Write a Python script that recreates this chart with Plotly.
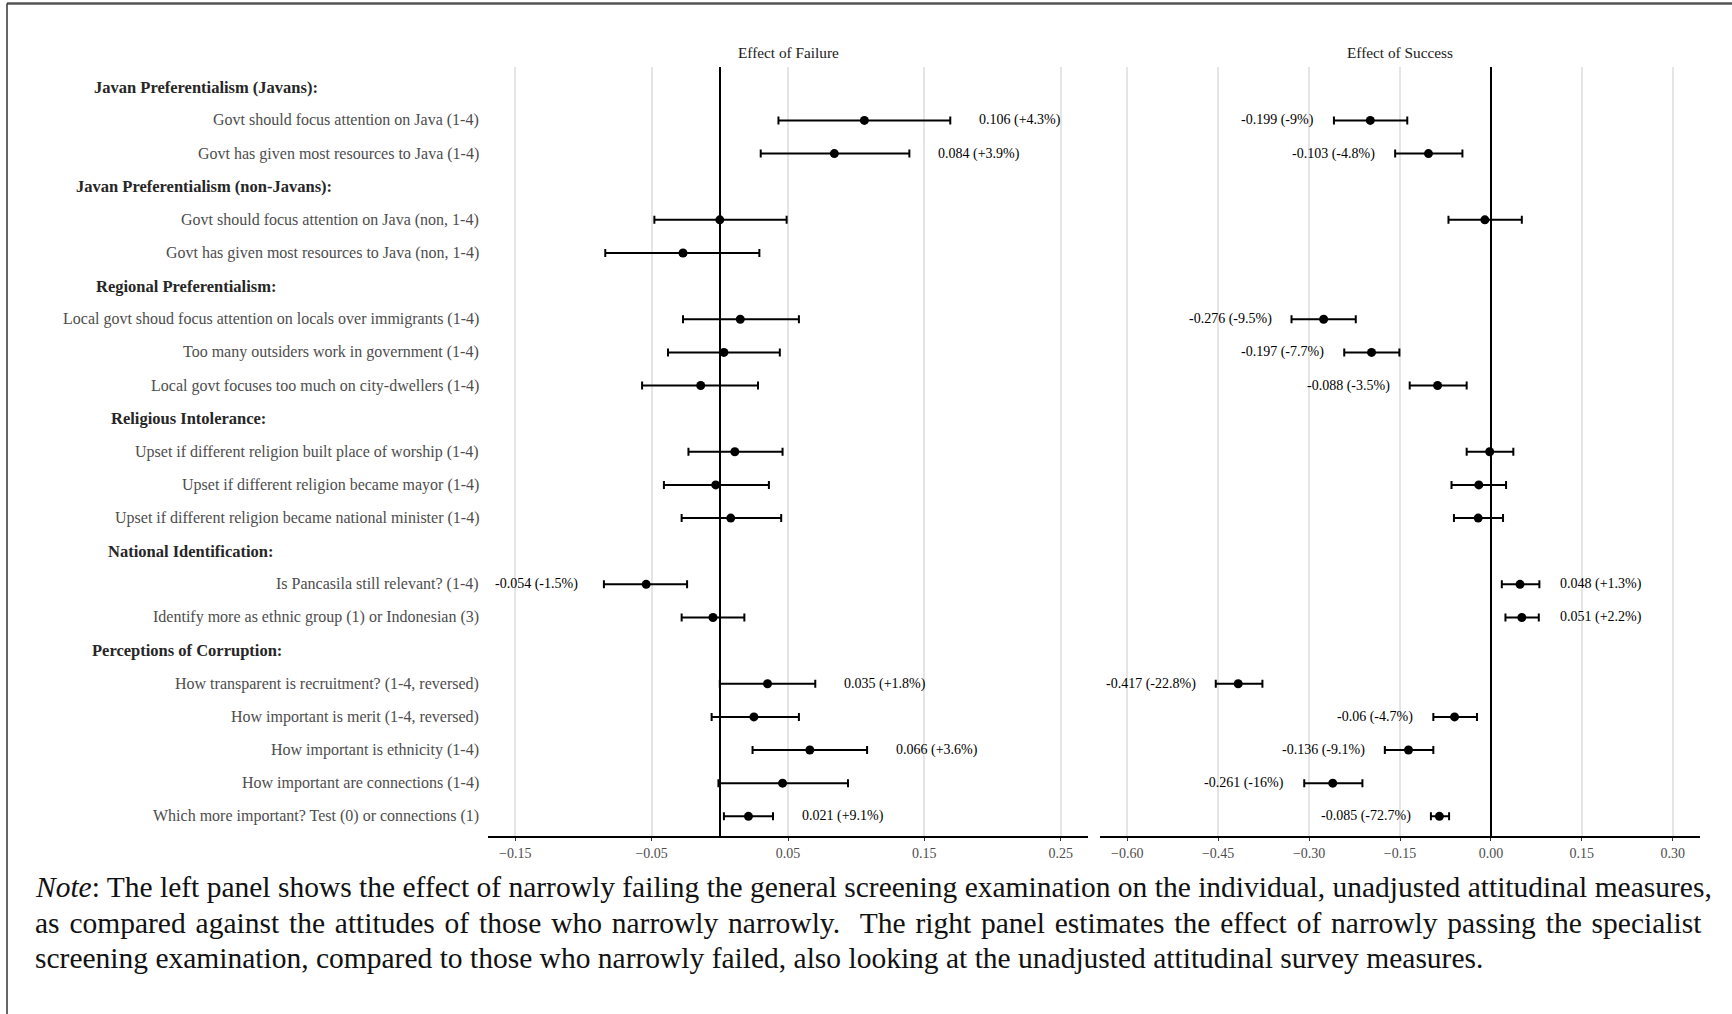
import plotly.graph_objects as go

# ---- data -----------------------------------------------------------------
rows = [
    "Javan Preferentialism (Javans):",
    "Govt should focus attention on Java (1-4)",
    "Govt has given most resources to Java (1-4)",
    "Javan Preferentialism (non-Javans):",
    "Govt should focus attention on Java (non, 1-4)",
    "Govt has given most resources to Java (non, 1-4)",
    "Regional Preferentialism:",
    "Local govt shoud focus attention on locals over immigrants (1-4)",
    "Too many outsiders work in government (1-4)",
    "Local govt focuses too much on city-dwellers (1-4)",
    "Religious Intolerance:",
    "Upset if different religion built place of worship (1-4)",
    "Upset if different religion became mayor (1-4)",
    "Upset if different religion became national minister (1-4)",
    "National Identification:",
    "Is Pancasila still relevant? (1-4)",
    "Identify more as ethnic group (1) or Indonesian (3)",
    "Perceptions of Corruption:",
    "How transparent is recruitment? (1-4, reversed)",
    "How important is merit (1-4, reversed)",
    "How important is ethnicity (1-4)",
    "How important are connections (1-4)",
    "Which more important? Test (0) or connections (1)",
]
is_header = [True, False, False, True, False, False, True, False, False, False,
             True, False, False, False, True, False, False, True, False, False,
             False, False, False]

# Effect of failure (left panel)
fail_est = [None, 0.106, 0.084, None, 0.000, -0.027, None, 0.015, 0.003, -0.014,
            None, 0.011, -0.003, 0.008, None, -0.054, -0.005, None, 0.035, 0.025,
            0.066, 0.046, 0.021]
fail_lo = [None, 0.043, 0.030, None, -0.048, -0.084, None, -0.027, -0.038, -0.057,
           None, -0.023, -0.041, -0.028, None, -0.085, -0.028, None, 0.000, -0.006,
           0.024, -0.001, 0.003]
fail_hi = [None, 0.169, 0.139, None, 0.049, 0.029, None, 0.058, 0.044, 0.028,
           None, 0.046, 0.036, 0.045, None, -0.024, 0.018, None, 0.070, 0.058,
           0.108, 0.094, 0.039]
fail_pct = [None, "+4.3%", "+3.9%", None, None, None, None, None, None, None,
            None, None, None, None, None, "-1.5%", None, None, "+1.8%", None,
            "+3.6%", None, "+9.1%"]

# Effect of success (right panel)
succ_est = [None, -0.199, -0.103, None, -0.010, None, None, -0.276, -0.197, -0.088,
            None, -0.002, -0.020, -0.021, None, 0.048, 0.051, None, -0.417, -0.060,
            -0.136, -0.261, -0.085]
succ_lo = [None, -0.259, -0.158, None, -0.070, None, None, -0.329, -0.242, -0.134,
           None, -0.040, -0.065, -0.061, None, 0.018, 0.024, None, -0.454, -0.095,
           -0.175, -0.308, -0.099]
succ_hi = [None, -0.138, -0.047, None, 0.051, None, None, -0.223, -0.151, -0.040,
           None, 0.037, 0.025, 0.020, None, 0.080, 0.079, None, -0.377, -0.023,
           -0.095, -0.212, -0.069]
succ_pct = [None, "-9%", "-4.8%", None, None, None, None, "-9.5%", "-7.7%", "-3.5%",
            None, None, None, None, None, "+1.3%", "+2.2%", None, "-22.8%", "-4.7%",
            "-9.1%", "-16%", "-72.7%"]

fail_ticks = [-0.15, -0.05, 0.05, 0.15, 0.25]
succ_ticks = [-0.60, -0.45, -0.30, -0.15, 0.00, 0.15, 0.30]

panel_titles = ["Effect of Failure", "Effect of Success"]

note_lines = [
    "<i>Note</i>: The left panel shows the effect of narrowly failing the general screening examination on the individual, unadjusted attitudinal measures,",
    "as compared against the attitudes of those who narrowly narrowly.  The right panel estimates the effect of narrowly passing the specialist",
    "screening examination, compared to those who narrowly failed, also looking at the unadjusted attitudinal survey measures.",
]
# line 1 is set justified: widen its word gaps slightly
note_gap = ["", "\u200a", ""]

# ---- layout geometry (pixels) --------------------------------------------
W, H = 1732, 1014
FONT = "Liberation Serif"
px = lambda v: v / W
py = lambda v: 1 - v / H

left_dom = [px(488), px(1088)]
right_dom = [px(1100), px(1700)]
plot_top, plot_bot = 67.4, 836.2
label_right = 480.5
header_x = [91.8, 73.9, 94.1, 108.7, 105.6, 89.9]
row_pos = list(range(1, len(rows) + 1))

fig = go.Figure()


def add_panel(est, lo, hi, pct, xa, gap_r, gap_l):
    xs, ys, ep, em = [], [], [], []
    for i, e in enumerate(est):
        if e is None:
            continue
        xs.append(e)
        ys.append(row_pos[i])
        ep.append(hi[i] - e)
        em.append(e - lo[i])
    fig.add_trace(go.Scatter(
        x=xs, y=ys, mode="markers", xaxis=xa, yaxis="y",
        marker=dict(color="black", size=9),
        error_x=dict(type="data", symmetric=False, array=ep, arrayminus=em,
                     color="black", thickness=2, width=4),
        showlegend=False, hoverinfo="skip",
    ))
    for i, e in enumerate(est):
        if e is None or pct[i] is None:
            continue
        txt = f"{e:g} ({pct[i]})"
        if e >= 0:
            xv, anchor, shift = hi[i], "left", gap_r
        else:
            xv, anchor, shift = lo[i], "right", -gap_l
        fig.add_annotation(
            x=xv, y=row_pos[i], xref=xa, yref="y", text=txt, showarrow=False,
            xanchor=anchor, xshift=shift, font=dict(family=FONT, size=14, color="black"),
        )


add_panel(fail_est, fail_lo, fail_hi, fail_pct, "x", 27, 24)
add_panel(succ_est, succ_lo, succ_hi, succ_pct, "x2", 19, 18)

# row labels and section headers
hi_idx = 0
for i, lab in enumerate(rows):
    if is_header[i]:
        fig.add_annotation(
            x=px(header_x[hi_idx]), y=row_pos[i], xref="paper", yref="y",
            text=f"<b>{lab}</b>", showarrow=False, xanchor="left",
            font=dict(family=FONT, size=16.5, color="#262626"),
        )
        hi_idx += 1
    else:
        fig.add_annotation(
            x=px(label_right), y=row_pos[i], xref="paper", yref="y",
            text=lab, showarrow=False, xanchor="right",
            font=dict(family=FONT, size=16, color="#4d4d4d"),
        )

# facet titles
for dom, title in zip([left_dom, right_dom], panel_titles):
    fig.add_annotation(
        x=(dom[0] + dom[1]) / 2, y=py(52), xref="paper", yref="paper",
        text=title, showarrow=False, xanchor="center", yanchor="middle",
        font=dict(family=FONT, size=15.3, color="#1a1a1a"),
    )

# note underneath
for k, line in enumerate(note_lines):
    fig.add_annotation(
        x=px(33), y=py(887 + 35.5 * k), xref="paper", yref="paper",
        text=line.replace(" ", " " + note_gap[k]) if note_gap[k] else line,
        showarrow=False, xanchor="left", yanchor="middle",
        font=dict(family=FONT, size=29.5, color="#111111"),
    )

# page frame
fig.add_shape(type="line", xref="paper", yref="paper", x0=px(7), x1=1,
              y0=py(3.5), y1=py(3.5), line=dict(color="#555555", width=2.5))
fig.add_shape(type="line", xref="paper", yref="paper", x0=px(7), x1=px(7),
              y0=0, y1=py(3.5), line=dict(color="#333333", width=1.5))

axis_common = dict(
    showgrid=True, gridcolor="#e5e5e5", gridwidth=1.5,
    zeroline=True, zerolinecolor="black", zerolinewidth=2,
    showline=True, linecolor="black", linewidth=2,
    ticks="outside", ticklen=3, tickwidth=1.2, tickcolor="#333333",
    tickfont=dict(family=FONT, size=14, color="#4d4d4d"),
    tickformat=".2f", anchor="y",
)

fig.update_layout(
    width=W, height=H, autosize=False,
    margin=dict(l=0, r=0, t=0, b=0),
    paper_bgcolor="white", plot_bgcolor="white",
    xaxis=dict(domain=left_dom, range=[-0.17, 0.27], tickvals=fail_ticks, **axis_common),
    xaxis2=dict(domain=right_dom, range=[-0.645, 0.345], tickvals=succ_ticks, **axis_common),
    yaxis=dict(domain=[py(plot_bot), py(plot_top)], range=[len(rows) + 0.6, 0.4],
               showgrid=False, zeroline=False, showticklabels=False, showline=False),
    font=dict(family=FONT),
)

fig.write_html("out.html")
